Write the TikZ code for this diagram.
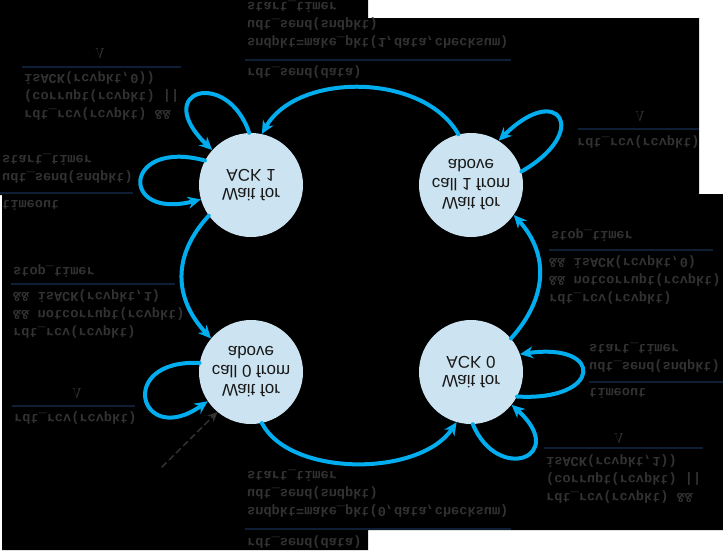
\documentclass[tikz,border=0pt]{standalone}
\usepackage{fontspec}
\setmainfont{Liberation Sans}
\setmonofont{Liberation Mono}
\usetikzlibrary{arrows.meta}
\definecolor{arrcyan}{RGB}{0,174,239}
\definecolor{statefill}{RGB}{204,228,241}
\definecolor{codegray}{RGB}{50,50,50}
\definecolor{rulenavy}{RGB}{14,30,52}
\begin{document}
\begin{tikzpicture}[x=1pt,y=1pt,yscale=-1,transform shape,line join=round,line cap=round,
	>={Stealth[length=13pt,width=12pt]},
	waitst/.style={circle,fill=statefill,minimum size=104pt,inner sep=0pt,align=center,text=black!90,font=\fontsize{17}{19}\selectfont},
	code/.style={anchor=west,inner sep=0pt,align=left,text=codegray,font=\ttfamily\bfseries\fontsize{13.6}{18}\selectfont},
	nop/.style={inner sep=0pt,text=codegray,font=\fontsize{14}{14}\selectfont},
	trn/.style={->,draw=arrcyan,line width=4pt},
	evbar/.style={draw=rulenavy,line width=1.5pt,line cap=butt}]
	\useasboundingbox (0,0) rectangle (723,550);
	\fill[white] (0,0) rectangle (723,550);
	\fill[black] (0,0) -- (368,0) -- (368,18) -- (699,18) -- (699,194) -- (723,194) -- (723,530)
		-- (368,530) -- (368,550) -- (2,550) -- (2,195) -- (0,195) -- cycle;
	% states
	\node[waitst] (call0) at (251,372) {Wait for\\call 0 from\\above};
	\node[waitst] (ack0) at (471,372) {Wait for\\ACK 0};
	\node[waitst] (call1) at (471,185) {Wait for\\call 1 from\\above};
	\node[waitst] (ack1) at (251,185) {Wait for\\ACK 1};
	\coordinate (init) at (162,467);
	% transitions
	\draw[dashed,dash pattern=on 6pt off 4pt,line width=1.5pt,codegray,-{Stealth[length=10pt,width=9pt]}] (init) -- (call0.130);
	\draw[trn] (call0.78) .. controls +(28,54) and +(-37,55) .. (ack0.106);
	\draw[trn] (ack0.88) .. controls +(25,60) and +(58,52) .. (ack0.39);
	\draw[trn] (ack0.28) .. controls +(85,5) and +(85,-12) .. (ack0.340);
	\draw[trn] (ack0.320) .. controls +(36,-40) and +(36,40) .. (call1.35);
	\draw[trn] (call1.345) .. controls +(70,-40) and +(60,-60) .. (call1.302);
	\draw[trn] (call1.256) .. controls +(-35,-62) and +(35,-62) .. (ack1.282);
	\draw[trn] (ack1.268) .. controls +(-22,-65) and +(-62,-60) .. (ack1.222);
	\draw[trn] (ack1.208) .. controls +(-82,-22) and +(-82,21) .. (ack1.164);
	\draw[trn] (ack1.144) .. controls +(-37,40) and +(-37,-40) .. (call0.220);
	\draw[trn] (call0.190) .. controls +(-85,-4) and +(-68,48) .. (call0.146);
	% labels: call 0 -> ack 0
	\node[code] (send0ev) at (247,542) {rdt\_send(data)};
	\draw[evbar] (245,529) -- (511,529);
	\node[code] (send0act) at (247,493.7) {sndpkt=make\_pkt(0,data,checksum)\\udt\_send(sndpkt)\\start\_timer};
	% ack 0 loops
	\node[code] (bad0ev) at (546,478.7) {rdt\_rcv(rcvpkt) \&\&\\(corrupt(rcvpkt) ||\\isACK(rcvpkt,1))};
	\draw[evbar] (544,448) -- (703,448);
	\node[nop] (bad0act) at (619,438) {$\Lambda$};
	\node[code] (tout0ev) at (589,393) {timeout};
	\draw[evbar] (589,382) -- (723,382);
	\node[code] (tout0act) at (589,357.5) {udt\_send(sndpkt)\\start\_timer};
	% ack 0 -> call 1
	\node[code] (ok0ev) at (549,280.3) {rdt\_rcv(rcvpkt)\\\&\& notcorrupt(rcvpkt)\\\&\& isACK(rcvpkt,0)};
	\draw[evbar] (549,250) -- (713,250);
	\node[code] (ok0act) at (551,235) {stop\_timer};
	% call 1 loop
	\node[code] (rcv1ev) at (577,142) {rdt\_rcv(rcvpkt)};
	\draw[evbar] (578,129) -- (699,129);
	\node[nop] (rcv1act) at (640,116) {$\Lambda$};
	% call 1 -> ack 1
	\node[code] (send1ev) at (247,72) {rdt\_send(data)};
	\draw[evbar] (245,60) -- (511,60);
	\node[code] (send1act) at (247,25) {sndpkt=make\_pkt(1,data,checksum)\\udt\_send(sndpkt)\\start\_timer};
	% ack 1 loops
	\node[code] (bad1ev) at (24,96.3) {rdt\_rcv(rcvpkt) \&\&\\(corrupt(rcvpkt) ||\\isACK(rcvpkt,0))};
	\draw[evbar] (22,67) -- (181,67);
	\node[nop] (bad1act) at (100,53) {$\Lambda$};
	\node[code] (tout1ev) at (2,205) {timeout};
	\draw[evbar] (0,193) -- (133,193);
	\node[code] (tout1act) at (2,169) {udt\_send(sndpkt)\\start\_timer};
	% ack 1 -> call 0
	\node[code] (ok1ev) at (13,314) {rdt\_rcv(rcvpkt)\\\&\& notcorrupt(rcvpkt)\\\&\& isACK(rcvpkt,1)};
	\draw[evbar] (11,284) -- (175,284);
	\node[code] (ok1act) at (13,271) {stop\_timer};
	% call 0 loop
	\node[code] (rcv0ev) at (14,418) {rdt\_rcv(rcvpkt)};
	\draw[evbar] (12,406) -- (135,406);
	\node[nop] (rcv0act) at (77,393) {$\Lambda$};
\end{tikzpicture}
\end{document}
